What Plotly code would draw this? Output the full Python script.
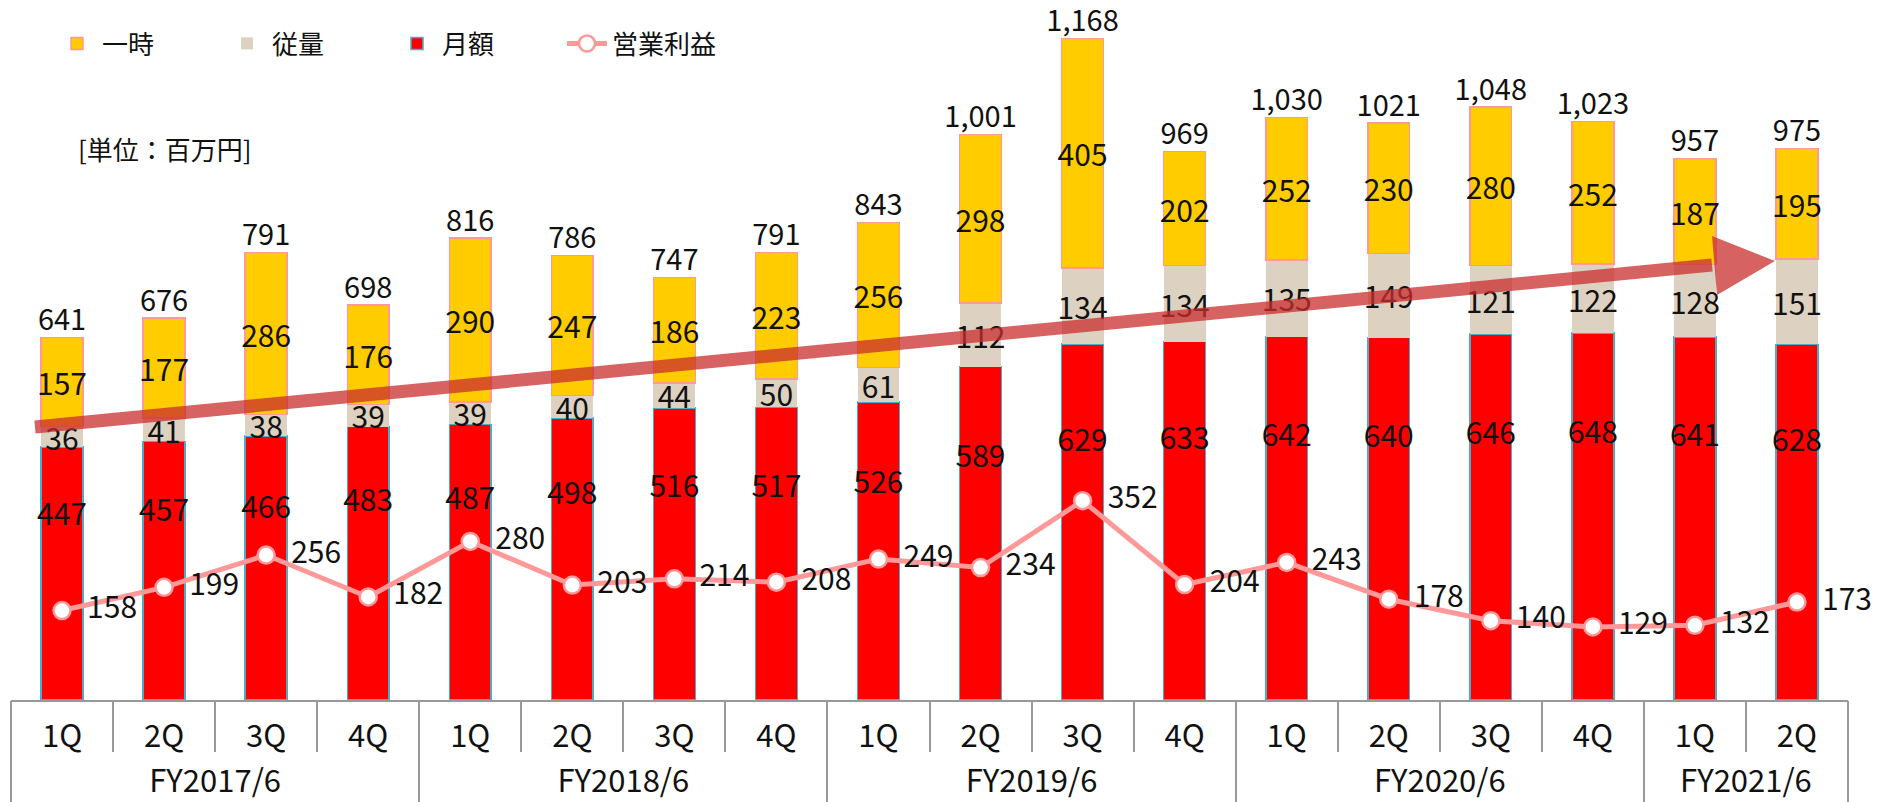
import plotly.graph_objects as go

# Quarterly revenue breakdown and operating profit (unit: million yen)
fiscal_years = ["FY2017/6", "FY2018/6", "FY2019/6", "FY2020/6", "FY2021/6"]
quarters_per_year = [4, 4, 4, 4, 2]
quarters = ["1Q", "2Q", "3Q", "4Q"] * 4 + ["1Q", "2Q"]

monthly = [447, 457, 466, 483, 487, 498, 516, 517, 526, 589, 629, 633, 642, 640, 646, 648, 641, 628]
usage = [36, 41, 38, 39, 39, 40, 44, 50, 61, 112, 134, 134, 135, 149, 121, 122, 128, 151]
one_time = [157, 177, 286, 176, 290, 247, 186, 223, 256, 298, 405, 202, 252, 230, 280, 252, 187, 195]
total_labels = ["641", "676", "791", "698", "816", "786", "747", "791", "843", "1,001",
                "1,168", "969", "1,030", "1021", "1,048", "1,023", "957", "975"]
operating_profit = [158, 199, 256, 182, 280, 203, 214, 208, 249, 234, 352, 204, 243, 178, 140, 129, 132, 173]

W, H = 1877, 802
ML, MR, MT, MB = 11, 29, 20, 102
PW, PH = W - ML - MR, H - MT - MB

FONT = "Noto Sans CJK JP, Noto Sans, sans-serif"
LABEL_SIZE = 30
GRID = "#999999"


def px(x):
    return (x - ML) / PW


def py(y):
    return (H - MB - y) / PH


n = len(quarters)
idx = list(range(n))
totals = [a + b + c for a, b, c in zip(monthly, usage, one_time)]

# fiscal-year group centres and boundaries on the category index scale
group_edges = [-0.5]
group_centers = []
for k in quarters_per_year:
    group_centers.append(group_edges[-1] + k / 2)
    group_edges.append(group_edges[-1] + k)

fig = go.Figure()

fig.add_trace(go.Bar(
    x=idx, y=monthly, name="月額", legendrank=3,
    marker=dict(color="#FF0000", line=dict(color="#4BACC6", width=1.5)),
    hoverinfo="skip",
))
fig.add_trace(go.Bar(
    x=idx, y=usage, name="従量", legendrank=2,
    marker=dict(color="#DDD1C1", line=dict(color="#DDD1C1", width=0)),
    text=[str(v) for v in usage], textposition="inside", insidetextanchor="middle",
    constraintext="none", textangle=0,
    insidetextfont=dict(size=LABEL_SIZE, color="#111", family=FONT),
    hoverinfo="skip",
))
fig.add_trace(go.Bar(
    x=idx, y=one_time, name="一時", legendrank=1,
    marker=dict(color="#FFCC00", line=dict(color="#FF9999", width=1.5)),
    text=[str(v) for v in one_time], textposition="inside", insidetextanchor="middle",
    constraintext="none", textangle=0,
    insidetextfont=dict(size=LABEL_SIZE, color="#111", family=FONT),
    hoverinfo="skip",
))

# monthly-fee labels sit in the upper part of the red segment
fig.add_trace(go.Scatter(
    x=idx, y=[v * 0.72 for v in monthly], mode="text",
    text=[str(v) for v in monthly], textposition="middle center",
    textfont=dict(size=LABEL_SIZE, color="#111", family=FONT),
    showlegend=False, hoverinfo="skip", cliponaxis=False,
))

# stack totals above each bar
fig.add_trace(go.Scatter(
    x=idx, y=totals, mode="text",
    text=total_labels, textposition="top center",
    textfont=dict(size=29, color="#111", family=FONT),
    showlegend=False, hoverinfo="skip", cliponaxis=False,
))

fig.add_trace(go.Scatter(
    x=idx, y=operating_profit, name="営業利益", legendrank=4,
    mode="lines+markers+text",
    line=dict(color="#FF9999", width=5),
    marker=dict(size=17, color="white", line=dict(color="#FF9999", width=2.5)),
    text=[str(v) for v in operating_profit], texttemplate="  %{text}",
    textposition="middle right",
    textfont=dict(size=LABEL_SIZE, color="#111", family=FONT),
    hoverinfo="skip", cliponaxis=False,
))

# invisible anchors so the fiscal-year label axis and divider axis get drawn
for axis_id, xs in (("x2", group_centers), ("x3", group_edges)):
    fig.add_trace(go.Scatter(
        x=xs, y=[0] * len(xs), xaxis=axis_id, yaxis="y",
        mode="markers", marker=dict(size=1, opacity=0),
        showlegend=False, hoverinfo="skip",
    ))

# growth arrow drawn over the bars
arrow_color = "rgba(200,45,45,0.75)"
shapes = [
    dict(type="line", xref="paper", yref="paper",
         x0=px(35), y0=py(427), x1=px(1712), y1=py(265),
         line=dict(color=arrow_color, width=13), layer="above"),
    dict(type="path", xref="paper", yref="paper",
         path=(f"M {px(1712)},{py(236)} L {px(1775)},{py(261)} "
               f"L {px(1717)},{py(295)} Z"),
         fillcolor=arrow_color, line=dict(width=0), layer="above"),
]

xrange = [-0.5, n - 0.5]
tick_font = dict(size=31, family=FONT, color="#111")

fig.update_layout(
    width=W, height=H,
    margin=dict(l=ML, r=MR, t=MT, b=MB, pad=0, autoexpand=False),
    paper_bgcolor="white", plot_bgcolor="white",
    barmode="stack", bargap=0.59,
    font=dict(family=FONT, size=26, color="#111"),
    hovermode=False,
    shapes=shapes,
    legend=dict(
        orientation="h", x=px(52), y=1.0, xanchor="left", yanchor="top",
        traceorder="normal",
        font=dict(size=26, family=FONT, color="#111"),
        itemwidth=40, entrywidth=115, entrywidthmode="pixels",
        bgcolor="rgba(0,0,0,0)",
    ),
    annotations=[dict(
        text="[単位：百万円]", xref="paper", yref="paper",
        x=px(76), y=py(148), xanchor="left", yanchor="middle",
        showarrow=False, font=dict(size=26, family=FONT, color="#111"),
    )],
    # quarter row: labels under each bar, short separators between quarters
    xaxis=dict(
        range=xrange, automargin=False,
        tickmode="array", tickvals=idx, ticktext=quarters, ticks="",
        showline=True, linecolor=GRID, linewidth=2,
        tickfont=tick_font, ticklabelstandoff=8,
        minor=dict(tickmode="array", tickvals=[i - 0.5 for i in range(n + 1)],
                   ticks="outside", ticklen=50, tickcolor=GRID, tickwidth=1.5,
                   showgrid=False),
        showgrid=False, zeroline=False,
    ),
    # fiscal-year row
    xaxis2=dict(
        overlaying="x", anchor="y", side="bottom",
        range=xrange, automargin=False,
        tickmode="array", tickvals=group_centers, ticktext=fiscal_years, ticks="",
        tickfont=tick_font, ticklabelstandoff=60,
        showline=False, showgrid=False, zeroline=False,
    ),
    # full-height dividers between fiscal years
    xaxis3=dict(
        overlaying="x", anchor="y", side="bottom",
        range=xrange, automargin=False,
        tickmode="array", tickvals=group_edges, ticktext=[""] * len(group_edges),
        ticks="outside", ticklen=104, tickcolor=GRID, tickwidth=1.5,
        showticklabels=False,
        showline=False, showgrid=False, zeroline=False,
    ),
    yaxis=dict(
        range=[0, 1201], visible=False, showgrid=False, zeroline=False,
        automargin=False,
    ),
)

fig.write_html("out.html")
